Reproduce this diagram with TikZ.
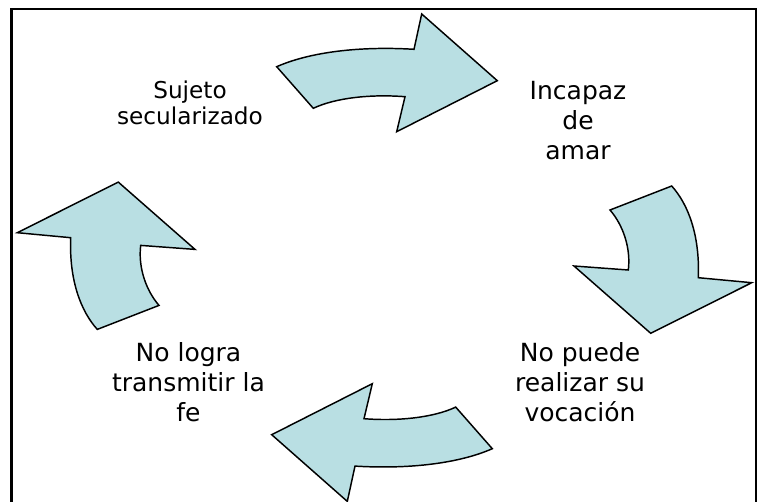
\documentclass[tikz,border=0pt]{standalone}
\usepackage{fontspec}
\setmainfont{DejaVu Sans}
\definecolor{arrowfill}{RGB}{185,223,227}

\begin{document}
\begin{tikzpicture}[x=0.75pt,y=-0.75pt,
    blockarrow/.style={draw=black, line width=1.1pt, fill=arrowfill, line join=miter},
    cycletext/.style={align=center, inner sep=0pt, font=\fontsize{18.75}{22.5}\selectfont}]
    % Fix picture size
    \useasboundingbox (0,0) rectangle (764,502);

    % Centre of the cycle
    \coordinate (mid) at (384.5,257.7);

    % Draw frame
    \draw[line width=2.2pt] (11.5,502) |- (756,9) -- (756,502);

    % Top and bottom arrows
    \foreach \rot in {0,180}
        \draw[blockarrow, rotate around={\rot:(mid)}]
            (276.7,66.7) .. controls (310,52) and (360,46) .. (414,49.3)
            -- (421.7,14) -- (497.3,80.7) -- (396.7,131.7) -- (405,96.7)
            .. controls (370,94) and (335,98) .. (313.3,108.3) -- cycle;

    % Right and left arrows
    \foreach \rot in {0,180}
        \draw[blockarrow, rotate around={\rot:(mid)}]
            (610,210) -- (671.7,186)
            .. controls (688,204) and (700,235) .. (698.3,277.7)
            -- (751.7,282.7) -- (650.7,333.3) -- (574,266) -- (628.3,270)
            .. controls (631,248) and (623,225) .. (610,210) -- cycle;

    % Place the texts
    \node[cycletext, font=\fontsize{17.4}{19.1}\selectfont] (secular) at (190,103) {Sujeto\\secularizado};
    \node[cycletext] (incapaz) at (578,121) {Incapaz\\de\\amar};
    \node[cycletext] (vocacion) at (580,382.5) {No puede\\realizar su\\vocación};
    \node[cycletext] (transmitir) at (188.5,381.7) {No logra\\transmitir la\\fe};

\end{tikzpicture}
\end{document}
